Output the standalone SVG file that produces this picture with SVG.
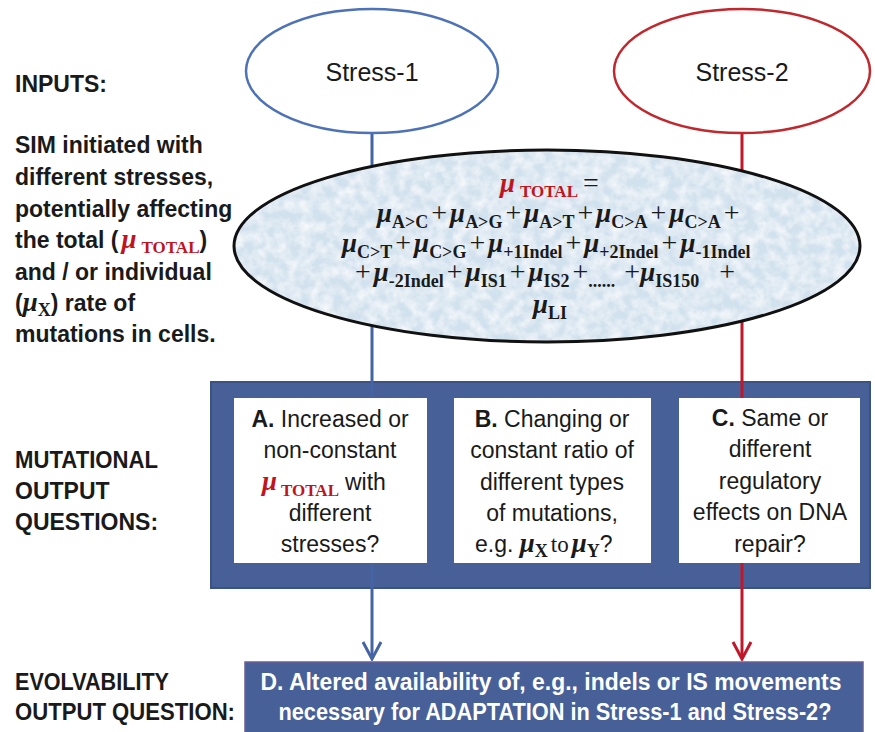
<svg xmlns="http://www.w3.org/2000/svg" width="875" height="732" viewBox="0 0 875 732">
<defs>
<style>
.lbl{font-family:"Liberation Sans",Arial,sans-serif;font-weight:bold;font-size:23px;fill:#1a1a1a}
.box{font-family:"Liberation Sans",Arial,sans-serif;font-size:23px;fill:#1a1a1a;text-anchor:middle}
.stress{font-family:"Liberation Sans",Arial,sans-serif;font-size:25px;fill:#1a1a1a;text-anchor:middle}
.dtxt{font-family:"Liberation Sans",Arial,sans-serif;font-weight:bold;font-size:23px;fill:#ffffff;text-anchor:middle}
.eq{font-family:"Liberation Serif","Times New Roman",serif;fill:#1a1a1a}
.mu{font-family:"Liberation Serif","Times New Roman",serif;font-style:italic;font-weight:bold;font-size:27px}
.sb{font-family:"Liberation Serif","Times New Roman",serif;font-weight:bold;font-size:18px}
.tt{font-family:"Liberation Serif","Times New Roman",serif;font-weight:bold;font-size:17px}
.pl{font-family:"Liberation Serif","Times New Roman",serif;font-size:28px}
.red{fill:#c0141e}
.panel{fill:#486098;stroke:#3c5186;stroke-width:2}
.wbox{fill:#ffffff}
.conn{fill:none;stroke-width:3}
</style>
<marker id="arrB" viewBox="-20 -11 22 22" markerWidth="22" markerHeight="22" refX="0" refY="0" orient="auto" markerUnits="userSpaceOnUse">
<path d="M-17,-9 L0,0 L-17,9" fill="none" stroke="#4464a4" stroke-width="3"/>
</marker>
<marker id="arrR" viewBox="-20 -11 22 22" markerWidth="22" markerHeight="22" refX="0" refY="0" orient="auto" markerUnits="userSpaceOnUse">
<path d="M-17,-9 L0,0 L-17,9" fill="none" stroke="#c0182b" stroke-width="3"/>
</marker>
<filter id="tex" x="0" y="0" width="100%" height="100%">
<feTurbulence type="fractalNoise" baseFrequency="0.09" numOctaves="3" seed="7" result="n"/>
<feColorMatrix in="n" type="matrix" values="0 0 0 0 1  0 0 0 0 1  0 0 0 0 1  1.4 0 0 0 -0.45" result="w"/>
<feComposite in="w" in2="SourceAlpha" operator="in" result="c"/>
<feMerge><feMergeNode in="SourceGraphic"/><feMergeNode in="c"/></feMerge>
</filter>
</defs>

<rect width="875" height="732" fill="#ffffff"/>

<!-- left labels -->
<g id="labels">
<text class="lbl" x="15" y="92">INPUTS:</text>
<text class="lbl" x="15" y="153">SIM initiated with</text>
<text class="lbl" x="15" y="185">different stresses,</text>
<text class="lbl" x="15" y="217">potentially affecting</text>
<text class="lbl" x="15" y="248">the total (<tspan class="mu red" dx="3" font-size="26px">μ</tspan><tspan class="tt red" dx="5" dy="5">TOTAL</tspan><tspan dy="-5">)</tspan></text>
<text class="lbl" x="15" y="280">and / or individual</text>
<text class="lbl" x="15" y="311">(<tspan class="mu" font-size="26px">μ</tspan><tspan class="sb" dy="5">X</tspan><tspan dy="-5">) rate of</tspan></text>
<text class="lbl" x="15" y="342">mutations in cells.</text>
<text class="lbl" x="15" y="468" textLength="143" lengthAdjust="spacingAndGlyphs">MUTATIONAL</text>
<text class="lbl" x="15" y="499">OUTPUT</text>
<text class="lbl" x="15" y="530">QUESTIONS:</text>
<text class="lbl" x="15" y="690" textLength="154" lengthAdjust="spacingAndGlyphs">EVOLVABILITY</text>
<text class="lbl" x="15" y="720" textLength="220" lengthAdjust="spacingAndGlyphs">OUTPUT QUESTION:</text>
</g>

<!-- mutational output panel -->
<g id="panel">
<rect class="panel" x="211" y="382" width="659" height="206"/>
</g>

<!-- connectors -->
<g id="connectors">
<line class="conn" x1="372" y1="133" x2="372" y2="659" stroke="#4464a4" marker-end="url(#arrB)"/>
<line class="conn" x1="742" y1="133" x2="742" y2="659" stroke="#c0182b" marker-end="url(#arrR)"/>
</g>

<!-- SIM equation ellipse -->
<g id="sim">
<ellipse cx="547" cy="246" rx="313" ry="96" fill="#d2e1ee" filter="url(#tex)"/>
<ellipse cx="547" cy="246" rx="313" ry="96" fill="none" stroke="#111111" stroke-width="3"/>
<text class="eq" x="500" y="192"><tspan class="mu red">μ</tspan><tspan class="tt red" dx="5" dy="5">TOTAL</tspan><tspan class="pl" dx="5" dy="-5">=</tspan></text>
<text class="eq" x="377" y="222"><tspan class="mu">μ</tspan><tspan class="sb" dy="6">A&gt;C</tspan><tspan class="pl" dx="3" dy="-6">+</tspan><tspan class="mu" dx="3">μ</tspan><tspan class="sb" dy="6">A&gt;G</tspan><tspan class="pl" dx="3" dy="-6">+</tspan><tspan class="mu" dx="3">μ</tspan><tspan class="sb" dy="6">A&gt;T</tspan><tspan class="pl" dx="3" dy="-6">+</tspan><tspan class="mu" dx="3">μ</tspan><tspan class="sb" dy="6">C&gt;A</tspan><tspan class="pl" dx="3" dy="-6">+</tspan><tspan class="mu" dx="3">μ</tspan><tspan class="sb" dy="6">C&gt;A</tspan><tspan class="pl" dx="3" dy="-6">+</tspan></text>
<text class="eq" x="342" y="252"><tspan class="mu">μ</tspan><tspan class="sb" dy="6">C&gt;T</tspan><tspan class="pl" dx="3" dy="-6">+</tspan><tspan class="mu" dx="3">μ</tspan><tspan class="sb" dy="6">C&gt;G</tspan><tspan class="pl" dx="3" dy="-6">+</tspan><tspan class="mu" dx="3">μ</tspan><tspan class="sb" dy="6">+1Indel</tspan><tspan class="pl" dx="3" dy="-6">+</tspan><tspan class="mu" dx="3">μ</tspan><tspan class="sb" dy="6">+2Indel</tspan><tspan class="pl" dx="3" dy="-6">+</tspan><tspan class="mu" dx="3">μ</tspan><tspan class="sb" dy="6">-1Indel</tspan></text>
<text class="eq" x="355" y="281"><tspan class="pl">+</tspan><tspan class="mu" dx="3">μ</tspan><tspan class="sb" dy="6">-2Indel</tspan><tspan class="pl" dx="3" dy="-6">+</tspan><tspan class="mu" dx="3">μ</tspan><tspan class="sb" dy="6">IS1</tspan><tspan class="pl" dx="3" dy="-6">+</tspan><tspan class="mu" dx="3">μ</tspan><tspan class="sb" dy="6">IS2</tspan><tspan class="pl" dx="3" dy="-6">+</tspan><tspan class="sb" dy="6">......</tspan><tspan class="pl" dx="9" dy="-6">+</tspan><tspan class="mu">μ</tspan><tspan class="sb" dy="6">IS150</tspan><tspan class="pl" dx="20" dy="-6">+</tspan></text>
<text class="eq" x="533" y="313"><tspan class="mu">μ</tspan><tspan class="sb" dy="6">LI</tspan></text>
</g>

<!-- question boxes -->
<g id="box-a">
<rect class="wbox" x="234" y="398" width="193" height="165"/>
<text class="box" x="330" y="427"><tspan font-weight="bold">A.</tspan> Increased or</text>
<text class="box" x="330" y="458">non-constant</text>
<text class="eq" x="262" y="490" font-size="23px"><tspan class="mu red">μ</tspan><tspan class="tt red" dx="4" dy="6">TOTAL</tspan><tspan dx="6" dy="-6" style="font-family:'Liberation Sans',Arial,sans-serif;font-size:23px">with</tspan></text>
<text class="box" x="330" y="521">different</text>
<text class="box" x="330" y="552">stresses?</text>
</g>
<g id="box-b">
<rect class="wbox" x="454" y="398" width="197" height="165"/>
<text class="box" x="552" y="427"><tspan font-weight="bold">B.</tspan> Changing or</text>
<text class="box" x="552" y="458">constant ratio of</text>
<text class="box" x="552" y="490">different types</text>
<text class="box" x="552" y="521">of mutations,</text>
<text class="eq" x="475" y="552" style="font-family:'Liberation Sans',Arial,sans-serif;font-size:23px">e.g. <tspan class="mu" font-size="26px">μ</tspan><tspan class="sb" dy="5">X</tspan><tspan dx="3" dy="-5" style="font-family:'Liberation Serif',serif;font-size:23px">to</tspan><tspan class="mu" dx="3" font-size="26px">μ</tspan><tspan class="sb" dy="5">Y</tspan><tspan dy="-5">?</tspan></text>
</g>
<g id="box-c">
<rect class="wbox" x="679" y="398" width="181" height="165"/>
<text class="box" x="770" y="426"><tspan font-weight="bold">C.</tspan> Same or</text>
<text class="box" x="770" y="457">different</text>
<text class="box" x="770" y="489">regulatory</text>
<text class="box" x="770" y="520">effects on DNA</text>
<text class="box" x="770" y="552">repair?</text>
</g>

<!-- stress inputs -->
<g id="stress-1">
<ellipse cx="372" cy="71" rx="126" ry="62" fill="#ffffff" stroke="#4d72b8" stroke-width="2.5"/>
<text class="stress" x="372" y="81">Stress-1</text>
</g>
<g id="stress-2">
<ellipse cx="742" cy="71" rx="128" ry="62" fill="#ffffff" stroke="#c0282e" stroke-width="2.5"/>
<text class="stress" x="742" y="81">Stress-2</text>
</g>

<!-- evolvability question -->
<g id="box-d">
<rect x="245" y="662" width="618" height="72" fill="#486098" stroke="#6a5f98" stroke-width="1.5"/>
<text class="dtxt" x="551" y="690" textLength="581" lengthAdjust="spacingAndGlyphs">D. Altered availability of, e.g., indels or IS movements</text>
<text class="dtxt" x="555" y="720" textLength="553" lengthAdjust="spacingAndGlyphs">necessary for ADAPTATION in Stress-1 and Stress-2?</text>
</g>
</svg>
